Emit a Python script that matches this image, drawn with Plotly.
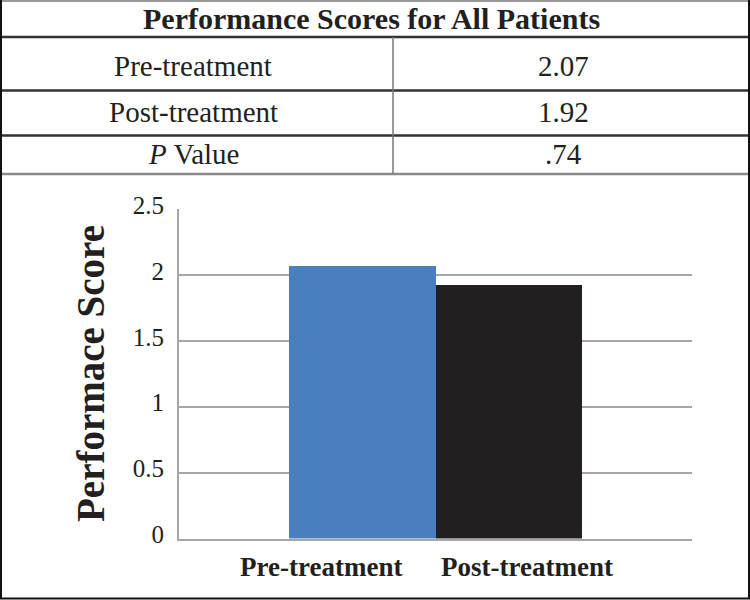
import plotly.graph_objects as go

# ---- data ----
categories = ["Pre-treatment", "Post-treatment"]
scores = [2.07, 1.92]
bar_colors = ["#4A7EBF", "#231F20"]
table_title = "Performance Scores for All Patients"
table_labels = ["Pre-treatment", "Post-treatment", "<i>P</i> Value"]
table_values = ["2.07", "1.92", ".74"]
y_ticks = [0, 0.5, 1, 1.5, 2, 2.5]
y_tick_text = ["0", "0.5", "1", "1.5", "2", "2.5"]
y_title = "Performace Score"

W, H = 750, 600
SERIF = "Liberation Serif, Times New Roman, serif"
GRID = "#A6A6A6"
INK = "#231F20"


def px(x):
    return x / W


def py(y):
    return 1 - y / H


def label(text, x, y, size, xref="paper", **kw):
    return dict(text=text, xref=xref, yref="paper", x=x, y=y,
                xanchor="center", yanchor="middle", showarrow=False,
                font=dict(family=SERIF, size=size, color=INK), **kw)


fig = go.Figure()
fig.add_trace(go.Bar(
    x=categories, y=scores,
    marker=dict(color=bar_colors, line=dict(width=0)),
    width=1.0, showlegend=False, hoverinfo="x+y",
))

shapes = []
# table horizontal lines
for yy, col, w in [(1, "#9A9A9A", 2), (37, "#333333", 2.5), (90.5, "#333333", 2.5),
                   (135.5, "#333333", 2.5), (174, "#8A8A8A", 2.5), (598.5, "#111111", 2)]:
    shapes.append(dict(type="line", xref="paper", yref="paper",
                       x0=0, x1=1, y0=py(yy), y1=py(yy),
                       line=dict(color=col, width=w)))
# outer verticals
for xx in [1, 749]:
    shapes.append(dict(type="line", xref="paper", yref="paper",
                       x0=px(xx), x1=px(xx), y0=py(0), y1=py(598.5),
                       line=dict(color="#111111", width=2)))
# column divider
shapes.append(dict(type="line", xref="paper", yref="paper",
                   x0=px(393), x1=px(393), y0=py(37), y1=py(174),
                   line=dict(color="#777777", width=1.5)))

annotations = [label(f"<b>{table_title}</b>", px(371), py(19), 30)]
row_centers = [66, 112, 154]
for lab, val, yc in zip(table_labels, table_values, row_centers):
    annotations.append(label(lab, px(193), py(yc), 29))
    annotations.append(label(val, px(563), py(yc), 29))

# x-axis category labels (offset like the original)
for cat, shift in zip(categories, [-41, 18]):
    annotations.append(label(f"<b>{cat}</b>", cat, py(567), 27, xref="x", xshift=shift))
# y-axis title
annotations.append(label(f"<b>{y_title}</b>", px(90), py(374), 39, textangle=-90))

fig.update_layout(
    width=W, height=H, autosize=False,
    margin=dict(l=0, r=0, t=0, b=0, pad=0),
    paper_bgcolor="white", plot_bgcolor="white",
    bargap=0,
    shapes=shapes, annotations=annotations,
    xaxis=dict(domain=[px(179), px(692)], range=[-1.25, 2.25], automargin=False,
               showticklabels=False, ticks="", showgrid=False, zeroline=False,
               showline=True, linecolor=GRID, linewidth=2, fixedrange=True),
    yaxis=dict(domain=[py(538.5), py(209)], range=[0, 2.5], automargin=False,
               tickvals=y_ticks, ticktext=y_tick_text, ticks="",
               ticklabelstandoff=8, ticklabelshift=-4,
               tickfont=dict(family=SERIF, size=25, color=INK),
               showgrid=True, gridcolor=GRID, gridwidth=2, zeroline=False,
               showline=True, linecolor=GRID, linewidth=2, fixedrange=True),
)

fig.write_html(
    "out.html",
    config={"displayModeBar": False},
    post_script="document.body.style.margin='0';document.body.style.overflow='hidden';",
)
